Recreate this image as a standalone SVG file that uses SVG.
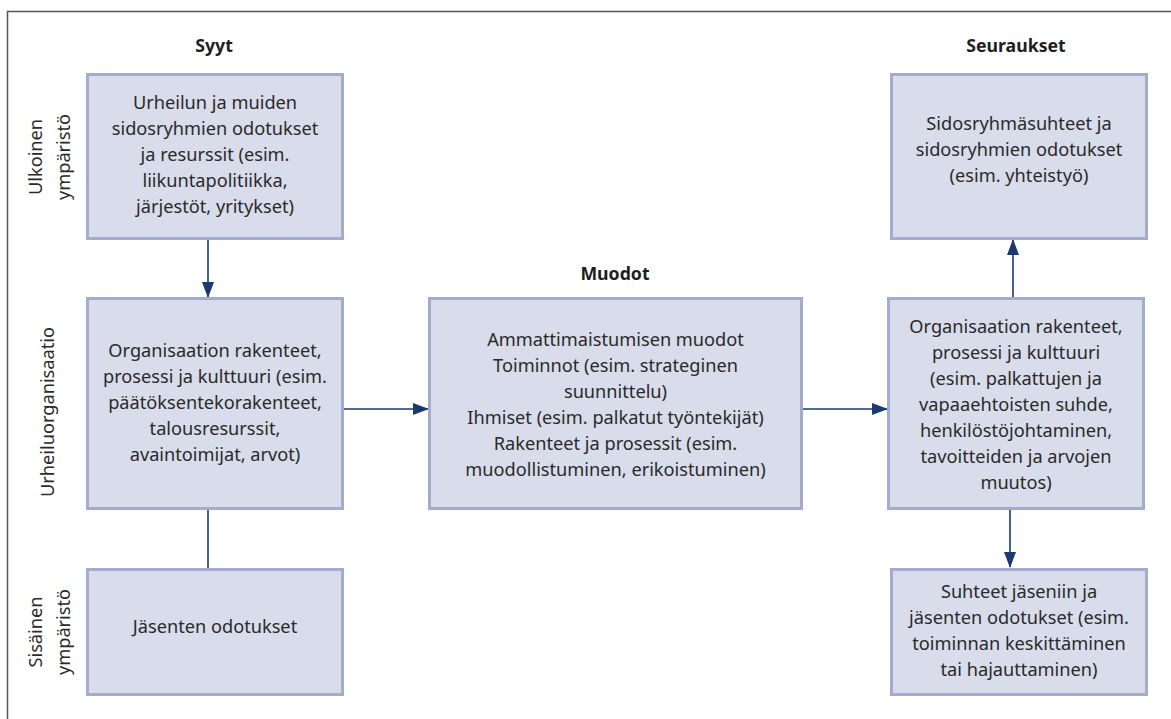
<svg xmlns="http://www.w3.org/2000/svg" width="1171" height="719" viewBox="0 0 1171 719">
<style>
.box{fill:#d9dcea;stroke:#a3acce;stroke-width:3}
.t{font-family:"Noto Sans","Open Sans",sans-serif;font-size:18.2px;fill:#2a2a2a;text-anchor:middle}
.h{font-family:"Noto Sans","Open Sans",sans-serif;font-size:17.7px;font-weight:bold;fill:#1e1e1e;text-anchor:middle}
.c{stroke:#1c3a70;stroke-width:1.6;fill:none}
</style>
<defs>
<marker id="ah" markerWidth="16" markerHeight="12" refX="15" refY="6" orient="auto" markerUnits="userSpaceOnUse">
<path d="M0,0 L16,6 L0,12 Z" fill="#1c3a70"/>
</marker>
</defs>
<rect width="1171" height="719" fill="#ffffff"/>
<path d="M7.5,719 V11.5 H1171" fill="none" stroke="#555" stroke-width="1.5"/>

<g id="headers">
<text class="h" x="214" y="52">Syyt</text>
<text class="h" x="615" y="280">Muodot</text>
<text class="h" x="1016" y="52">Seuraukset</text>
</g>

<g id="side-labels">
<text class="t" transform="translate(42,157) rotate(-90)">Ulkoinen</text>
<text class="t" transform="translate(70,157) rotate(-90)">ympäristö</text>
<text class="t" transform="translate(54,412) rotate(-90)">Urheiluorganisaatio</text>
<text class="t" transform="translate(42,632) rotate(-90)">Sisäinen</text>
<text class="t" transform="translate(70,632) rotate(-90)">ympäristö</text>
</g>

<g id="connectors">
<line class="c" x1="208" y1="239" x2="208" y2="297" marker-end="url(#ah)"/>
<line class="c" x1="208" y1="509" x2="208" y2="568"/>
<line class="c" x1="343" y1="409" x2="428" y2="409" marker-end="url(#ah)"/>
<line class="c" x1="803" y1="409" x2="887" y2="409" marker-end="url(#ah)"/>
<line class="c" x1="1013" y1="297" x2="1013" y2="240" marker-end="url(#ah)"/>
<line class="c" x1="1010" y1="509" x2="1010" y2="567" marker-end="url(#ah)"/>
</g>

<g id="n-ulkoinen">
<rect class="box" x="87.5" y="74.5" width="255" height="164"/>
<text class="t" x="215" y="109">Urheilun ja muiden</text>
<text class="t" x="215" y="135">sidosryhmien odotukset</text>
<text class="t" x="215" y="161">ja resurssit (esim.</text>
<text class="t" x="215" y="187">liikuntapolitiikka,</text>
<text class="t" x="215" y="213">järjestöt, yritykset)</text>
</g>

<g id="n-org-syyt">
<rect class="box" x="87.5" y="298.5" width="255" height="210"/>
<text class="t" x="215" y="357">Organisaation rakenteet,</text>
<text class="t" x="215" y="383">prosessi ja kulttuuri (esim.</text>
<text class="t" x="215" y="409">päätöksentekorakenteet,</text>
<text class="t" x="215" y="435">talousresurssit,</text>
<text class="t" x="215" y="461">avaintoimijat, arvot)</text>
</g>

<g id="n-jasenet">
<rect class="box" x="87.5" y="569.5" width="255" height="125"/>
<text class="t" x="215" y="633">Jäsenten odotukset</text>
</g>

<g id="n-muodot">
<rect class="box" x="429.5" y="298.5" width="372" height="210"/>
<text class="t" x="615.5" y="346">Ammattimaistumisen muodot</text>
<text class="t" x="615.5" y="372">Toiminnot (esim. strateginen</text>
<text class="t" x="615.5" y="398">suunnittelu)</text>
<text class="t" x="615.5" y="424">Ihmiset (esim. palkatut työntekijät)</text>
<text class="t" x="615.5" y="450">Rakenteet ja prosessit (esim.</text>
<text class="t" x="615.5" y="476">muodollistuminen, erikoistuminen)</text>
</g>

<g id="n-sidosryhmat">
<rect class="box" x="891.5" y="74.5" width="255" height="164"/>
<text class="t" x="1019" y="130">Sidosryhmäsuhteet ja</text>
<text class="t" x="1019" y="156">sidosryhmien odotukset</text>
<text class="t" x="1019" y="182">(esim. yhteistyö)</text>
</g>

<g id="n-org-seuraukset">
<rect class="box" x="888.5" y="298.5" width="255" height="210"/>
<text class="t" x="1016" y="333">Organisaation rakenteet,</text>
<text class="t" x="1016" y="359">prosessi ja kulttuuri</text>
<text class="t" x="1016" y="385">(esim. palkattujen ja</text>
<text class="t" x="1016" y="411">vapaaehtoisten suhde,</text>
<text class="t" x="1016" y="437">henkilöstöjohtaminen,</text>
<text class="t" x="1016" y="463">tavoitteiden ja arvojen</text>
<text class="t" x="1016" y="489">muutos)</text>
</g>

<g id="n-suhteet">
<rect class="box" x="891.5" y="569.5" width="255" height="125"/>
<text class="t" x="1019" y="598">Suhteet jäseniin ja</text>
<text class="t" x="1019" y="624">jäsenten odotukset (esim.</text>
<text class="t" x="1019" y="650">toiminnan keskittäminen</text>
<text class="t" x="1019" y="676">tai hajauttaminen)</text>
</g>
</svg>
